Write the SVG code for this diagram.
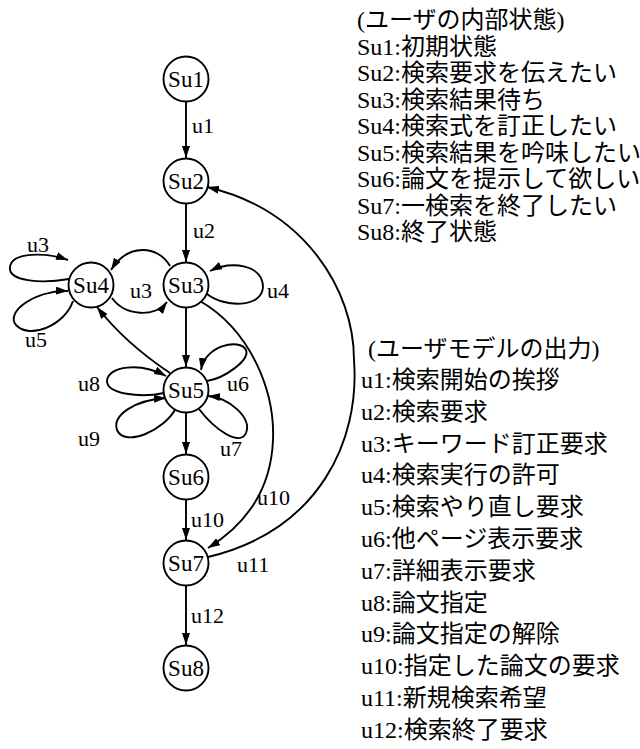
<svg xmlns="http://www.w3.org/2000/svg" width="640" height="749" viewBox="0 0 640 749">
<defs>
<marker id="ah" markerUnits="userSpaceOnUse" markerWidth="12" markerHeight="8" refX="12" refY="4" orient="auto">
<path d="M0,0 L12,4 L0,8 z" fill="#000"/>
</marker>
<style>
.n{fill:#fff;stroke:#000;stroke-width:1.9}
.nt{font-family:"Liberation Serif",serif;font-size:23px;text-anchor:middle;fill:#000}
.e{fill:none;stroke:#000;stroke-width:1.9;marker-end:url(#ah)}
.el{font-family:"Liberation Serif",serif;font-size:22px;fill:#000}
.lt{font-family:"Liberation Serif","Noto Sans CJK JP",sans-serif;font-size:24px;fill:#000}
</style>
</defs>
<rect width="640" height="749" fill="#fff"/>
<g id="connectors">
<path class="e" d="M186,101 L186,158"/>
<path class="e" d="M186,203 L186,262"/>
<path class="e" d="M186,307 L186,367"/>
<path class="e" d="M186,412 L186,454"/>
<path class="e" d="M186,499 L186,540"/>
<path class="e" d="M186,585 L186,645"/>
<path class="e" d="M170,266 C158,245 128,243 111,270"/>
<path class="e" d="M112,298 C125,316 155,318 167,302"/>
<path class="e" d="M69,279 C40,284 8,281 10,267 C12,252 45,252 68,260"/>
<path class="e" d="M73,301 C65,325 30,340 16,325 C5,312 35,290 68,291"/>
<path class="e" d="M170,373 Q125,343 97,307"/>
<path class="e" d="M207,294 C225,308 262,308 263,287 C263,265 232,260 210,271"/>
<path class="e" d="M164,393 C140,398 107,394 107,381 C108,366 140,362 166,376"/>
<path class="e" d="M176,408 C165,430 125,448 117,430 C112,415 135,400 166,398"/>
<path class="e" d="M207,381 C225,378 250,360 246,350 C240,338 205,345 201,370"/>
<path class="e" d="M199,409 C215,430 240,447 246,433 C252,418 230,398 208,396"/>
<path class="e" d="M200,301 C250,330 275,390 273,440 C271,490 245,525 208,548"/>
<path class="e" d="M208,557 C320,530 360,440 354,360 C354,290 305,210 207,187"/>
</g>
<g id="edge-labels">
<text class="el" x="192" y="133">u1</text>
<text class="el" x="193" y="238">u2</text>
<text class="el" x="27" y="252">u3</text>
<text class="el" x="130" y="298">u3</text>
<text class="el" x="267" y="298">u4</text>
<text class="el" x="25" y="347">u5</text>
<text class="el" x="78" y="391">u8</text>
<text class="el" x="227" y="391">u6</text>
<text class="el" x="78" y="446">u9</text>
<text class="el" x="220" y="456">u7</text>
<text class="el" x="191" y="527">u10</text>
<text class="el" x="257" y="505">u10</text>
<text class="el" x="237" y="572">u11</text>
<text class="el" x="191" y="623">u12</text>
</g>
<g id="Su1"><circle class="n" cx="186" cy="79" r="22.5"/><text class="nt" x="186" y="87">Su1</text></g>
<g id="Su2"><circle class="n" cx="186" cy="181" r="22.5"/><text class="nt" x="186" y="189">Su2</text></g>
<g id="Su3"><circle class="n" cx="186" cy="285" r="22.5"/><text class="nt" x="186" y="293">Su3</text></g>
<g id="Su4"><circle class="n" cx="91" cy="285" r="22.5"/><text class="nt" x="91" y="293">Su4</text></g>
<g id="Su5"><circle class="n" cx="186" cy="390" r="22.5"/><text class="nt" x="186" y="398">Su5</text></g>
<g id="Su6"><circle class="n" cx="186" cy="477" r="22.5"/><text class="nt" x="186" y="485">Su6</text></g>
<g id="Su7"><circle class="n" cx="186" cy="563" r="22.5"/><text class="nt" x="186" y="571">Su7</text></g>
<g id="Su8"><circle class="n" cx="186" cy="668" r="22.5"/><text class="nt" x="186" y="676">Su8</text></g>
<g id="legend-states">
<text class="lt" x="357" y="28">(ユーザの内部状態)</text>
<text class="lt" x="357" y="54.5">Su1:初期状態</text>
<text class="lt" x="357" y="81">Su2:検索要求を伝えたい</text>
<text class="lt" x="357" y="107.5">Su3:検索結果待ち</text>
<text class="lt" x="357" y="134">Su4:検索式を訂正したい</text>
<text class="lt" x="357" y="160.5">Su5:検索結果を吟味したい</text>
<text class="lt" x="357" y="187">Su6:論文を提示して欲しい</text>
<text class="lt" x="357" y="213.5">Su7:一検索を終了したい</text>
<text class="lt" x="357" y="240">Su8:終了状態</text>
</g>
<g id="legend-outputs">
<text class="lt" x="368" y="357">(ユーザモデルの出力)</text>
<text class="lt" x="361" y="388">u1:検索開始の挨拶</text>
<text class="lt" x="361" y="419.8">u2:検索要求</text>
<text class="lt" x="361" y="451.6">u3:キーワード訂正要求</text>
<text class="lt" x="361" y="483.4">u4:検索実行の許可</text>
<text class="lt" x="361" y="515.2">u5:検索やり直し要求</text>
<text class="lt" x="361" y="547">u6:他ページ表示要求</text>
<text class="lt" x="361" y="578.8">u7:詳細表示要求</text>
<text class="lt" x="361" y="610.6">u8:論文指定</text>
<text class="lt" x="361" y="642.4">u9:論文指定の解除</text>
<text class="lt" x="361" y="674.2">u10:指定した論文の要求</text>
<text class="lt" x="361" y="706">u11:新規検索希望</text>
<text class="lt" x="361" y="737.8">u12:検索終了要求</text>
</g>
</svg>
